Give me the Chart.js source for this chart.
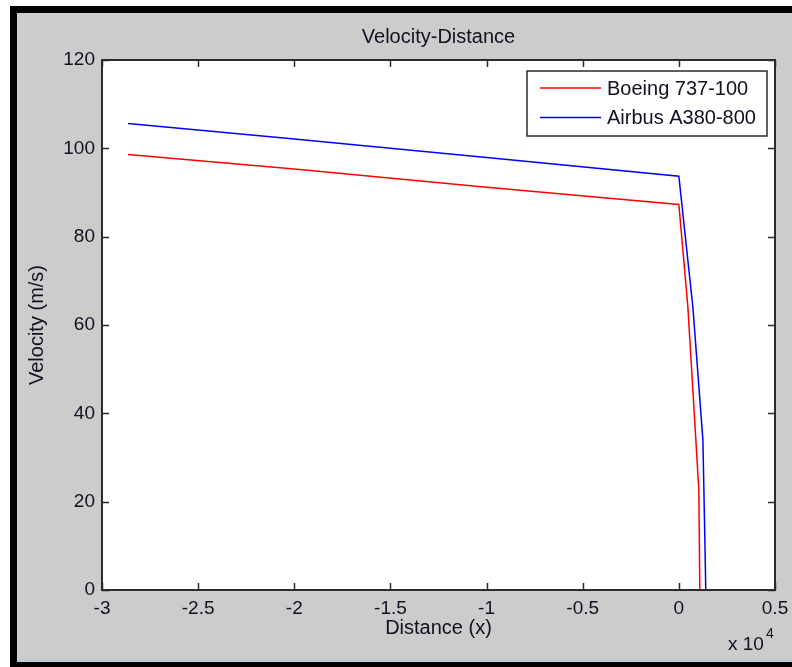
<!DOCTYPE html>
<html>
<head>
<meta charset="utf-8">
<script src="https://cdn.jsdelivr.net/npm/chart.js@4.4.1/dist/chart.umd.min.js"></script>
<style>
  html, body { margin: 0; padding: 0; background: #ffffff; width: 792px; height: 667px; overflow: hidden; }
  #frame {
    position: absolute; left: 10px; top: 6px; width: 800px; height: 661px;
    box-sizing: border-box; background: #cccccc;
    border-left: 7px solid #000; border-top: 7px solid #000; border-bottom: 5px solid #000;
  }
  #edge { position: absolute; left: 17px; top: 660px; width: 780px; height: 1px; background: #a9c7e6; }
  #wrap { position: absolute; left: 0; top: 0; width: 792px; height: 667px; }
  canvas { display: block; }
</style>
</head>
<body>
<div id="frame"></div>
<div id="edge"></div>
<div id="wrap"><canvas id="vd" width="792" height="667"></canvas></div>
<script>
// Velocity vs distance (x in metres, shown as x 10^4)
const distBoeing = [-28650, -20000, -10000, 0, 470, 884, 1040, 1090];
const velBoeing  = [98.6, 95.3, 91.2, 87.3, 64, 34, 22.5, 0];

const distAirbus = [-28650, -20000, -10000, 0, 730, 1250, 1350, 1400];
const velAirbus  = [105.6, 102.1, 97.9, 93.7, 64, 34, 12, 0];

const seriesNames = ['Boeing 737-100', 'Airbus A380-800'];
const seriesColors = ['#ff0000', '#0000ff'];

const xTicks = [-30000, -25000, -20000, -15000, -10000, -5000, 0, 5000];
const yTicks = [0, 20, 40, 60, 80, 100, 120];

const FONT = "'Liberation Sans', Arial, sans-serif";
const TEXT = '#111122';

// MATLAB-ish axes box: white plot area, inward ticks on all sides, legend and exponent
const matlabBox = {
  id: 'matlabBox',
  beforeDraw(chart) {
    const a = chart.chartArea, ctx = chart.ctx;
    ctx.save();
    ctx.fillStyle = '#ffffff';
    ctx.fillRect(a.left, a.top, a.right - a.left, a.bottom - a.top);
    ctx.restore();
  },
  afterDraw(chart) {
    const a = chart.chartArea, ctx = chart.ctx;
    const xs = chart.scales.x, ys = chart.scales.y;
    const tl = 7;
    ctx.save();
    ctx.strokeStyle = '#2b2b2b';
    ctx.lineWidth = 1.5;
    ctx.beginPath();
    xTicks.forEach(v => {
      const px = Math.round(xs.getPixelForValue(v)) + 0.5;
      ctx.moveTo(px, a.bottom); ctx.lineTo(px, a.bottom - tl);
      ctx.moveTo(px, a.top); ctx.lineTo(px, a.top + tl);
    });
    yTicks.forEach(v => {
      const py = Math.round(ys.getPixelForValue(v)) + 0.5;
      ctx.moveTo(a.left, py); ctx.lineTo(a.left + tl, py);
      ctx.moveTo(a.right, py); ctx.lineTo(a.right - tl, py);
    });
    ctx.stroke();
    ctx.lineWidth = 2;
    ctx.strokeRect(a.left, a.top, a.right - a.left, a.bottom - a.top);

    // legend
    const lx = 527, ly = 71, lw = 240, lh = 65;
    ctx.fillStyle = '#ffffff';
    ctx.fillRect(lx, ly, lw, lh);
    ctx.lineWidth = 1.5;
    ctx.strokeStyle = '#2b2b2b';
    ctx.strokeRect(lx, ly, lw, lh);
    chart.data.datasets.forEach((ds, i) => {
      const y = 88 + i * 29.5;
      ctx.strokeStyle = ds.borderColor;
      ctx.lineWidth = 1.5;
      ctx.beginPath(); ctx.moveTo(540, y); ctx.lineTo(601, y); ctx.stroke();
      ctx.fillStyle = TEXT;
      ctx.font = '20px ' + FONT;
      ctx.textBaseline = 'middle';
      ctx.textAlign = 'left';
      ctx.fillText(ds.label, 607, y + 1);
    });

    // exponent label under the x axis
    ctx.fillStyle = TEXT;
    ctx.textBaseline = 'middle';
    ctx.textAlign = 'left';
    ctx.font = '19px ' + FONT;
    ctx.fillText('x 10', 728, 645);
    ctx.font = '14px ' + FONT;
    ctx.fillText('4', 766, 634);
    ctx.restore();
  }
};

new Chart(document.getElementById('vd'), {
  type: 'scatter',
  data: {
    datasets: [
      {
        label: seriesNames[0],
        data: distBoeing.map((d, i) => ({ x: d, y: velBoeing[i] })),
        showLine: true,
        borderColor: seriesColors[0],
        borderWidth: 1.5,
        pointRadius: 0,
        tension: 0
      },
      {
        label: seriesNames[1],
        data: distAirbus.map((d, i) => ({ x: d, y: velAirbus[i] })),
        showLine: true,
        borderColor: seriesColors[1],
        borderWidth: 1.5,
        pointRadius: 0,
        tension: 0
      }
    ]
  },
  options: {
    responsive: false,
    animation: false,
    devicePixelRatio: 1,
    layout: { padding: { left: 0, right: 17, top: 0, bottom: 0 } },
    plugins: {
      legend: { display: false },
      tooltip: { enabled: false },
      title: {
        display: true,
        text: 'Velocity-Distance',
        fullSize: false,
        color: TEXT,
        font: { family: FONT, size: 20, weight: 'normal' },
        padding: { top: 25, bottom: 11 }
      }
    },
    scales: {
      x: {
        type: 'linear',
        min: -30000,
        max: 5000,
        afterBuildTicks: s => { s.ticks = xTicks.map(v => ({ value: v })); },
        afterFit: s => { s.height = 77; s.paddingLeft = 0; s.paddingRight = 0; },
        grid: { display: false, drawTicks: false },
        border: { display: false },
        ticks: {
          color: TEXT,
          padding: 7,
          font: { family: FONT, size: 19 },
          maxRotation: 0,
          autoSkip: false,
          callback: v => String(v / 10000)
        },
        title: {
          display: true,
          text: 'Distance (x)',
          color: TEXT,
          font: { family: FONT, size: 20 },
          padding: { top: 0, bottom: 27 }
        }
      },
      y: {
        type: 'linear',
        min: 0,
        max: 120,
        afterBuildTicks: s => { s.ticks = yTicks.map(v => ({ value: v })); },
        afterFit: s => { s.width = 102; s.paddingTop = 0; s.paddingBottom = 0; },
        grid: { display: false, drawTicks: false },
        border: { display: false },
        ticks: {
          color: TEXT,
          padding: 7,
          autoSkip: false,
          font: { family: FONT, size: 19 }
        },
        title: {
          display: true,
          text: 'Velocity (m/s)',
          color: TEXT,
          font: { family: FONT, size: 20 },
          padding: { top: 25, bottom: 0 }
        }
      }
    }
  },
  plugins: [matlabBox]
});
</script>
</body>
</html>
